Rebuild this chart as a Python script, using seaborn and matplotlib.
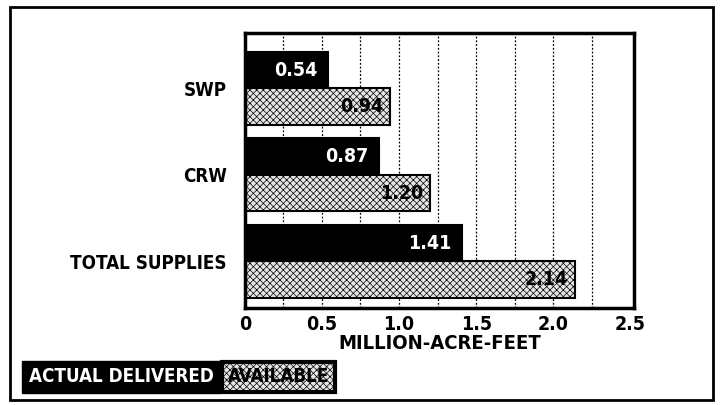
import matplotlib
matplotlib.use("Agg")
import matplotlib.pyplot as plt
import numpy as np
import pandas as pd
import seaborn as sns
from matplotlib.patches import Rectangle

# data
sources = ["SWP", "CRW", "TOTAL SUPPLIES"]
delivered = [0.54, 0.87, 1.41]
available = [0.94, 1.20, 2.14]
series_names = ["ACTUAL DELIVERED", "AVAILABLE"]
x_ticks = [0, 0.5, 1.0, 1.5, 2.0, 2.5]
x_tick_labels = ["0", "0.5", "1.0", "1.5", "2.0", "2.5"]
grid_lines = [0.25, 0.5, 0.75, 1.0, 1.25, 1.5, 1.75, 2.0, 2.25]

df = pd.DataFrame({
    "source": sources * 2,
    "value": delivered + available,
    "series": [series_names[0]] * 3 + [series_names[1]] * 3,
})

sns.set_style("white")
plt.rcParams["font.family"] = ["DejaVu Sans"]
plt.rcParams["font.stretch"] = "condensed"
plt.rcParams["font.weight"] = "bold"
plt.rcParams["text.color"] = "black"
plt.rcParams["axes.labelcolor"] = "black"
plt.rcParams["xtick.color"] = "black"
plt.rcParams["ytick.color"] = "black"
plt.rcParams["hatch.color"] = "#8c8c8c"
plt.rcParams["hatch.linewidth"] = 0.5

fig = plt.figure(figsize=(7.2, 4.05), dpi=100)
ax = fig.add_axes([0.340, 0.2395, 0.541, 0.679])

# dotted grid behind the bars
for g in grid_lines:
    ax.axvline(g, color="black", linestyle=(0, (1.5, 1.5)), linewidth=0.9, zorder=0)

sns.barplot(
    data=df, y="source", x="value", hue="series", orient="h",
    palette=["black", "#e6e6e6"], width=0.845, gap=0,
    edgecolor="black", linewidth=1.5, legend=False, ax=ax, zorder=2,
)

# stipple texture on the "available" bars
n = len(sources)
for patch in ax.patches[n:2 * n]:
    patch.set_hatch("xxxxx")

ax.bar_label(ax.containers[0], labels=[f"{v:.2f}" for v in delivered],
             padding=-39, color="white", fontsize=14, fontweight="bold")
ax.bar_label(ax.containers[1], labels=[f"{v:.2f}" for v in available],
             padding=-36, color="black", fontsize=14, fontweight="bold")

ax.set_xlim(0, 2.525)
ax.set_ylim(2.54, -0.64)
ax.set_xticks(x_ticks)
ax.set_xticklabels(x_tick_labels, fontsize=14, fontweight="bold")
ax.tick_params(axis="both", length=0, pad=5)
ax.tick_params(axis="y", labelsize=13.5, pad=13)
for lbl in ax.get_yticklabels():
    lbl.set_fontweight("bold")
ax.set_xlabel("MILLION-ACRE-FEET", fontsize=14.5, fontweight="bold", labelpad=0)
ax.set_ylabel("")
for spine in ax.spines.values():
    spine.set_visible(True)
    spine.set_linewidth(2.5)
    spine.set_color("black")

# outer frame
fig.patches.append(Rectangle((10 / 720, 5 / 405), 703 / 720, 393 / 405,
                             transform=fig.transFigure, fill=False,
                             edgecolor="black", linewidth=2))

# legend built as labelled boxes, second one placed right after the first
legend_y = 1 - 377 / 405
first = fig.text(29 / 720, legend_y, series_names[0], color="white",
                 fontsize=13.5, fontweight="bold", va="center", ha="left",
                 bbox=dict(boxstyle="square,pad=0.35", facecolor="black",
                           edgecolor="black"))
fig.canvas.draw()
box = first.get_bbox_patch().get_window_extent()
x_next = (box.x1 + 0.35 * 13.5 * 100 / 72 + 1) / 720
fig.text(x_next, legend_y, series_names[1], color="black",
         fontsize=13.5, fontweight="bold", va="center", ha="left",
         bbox=dict(boxstyle="square,pad=0.3", facecolor="#e6e6e6",
                   edgecolor="black", linewidth=3, hatch="xxxxx"))

fig.savefig("out.png", dpi=100)
